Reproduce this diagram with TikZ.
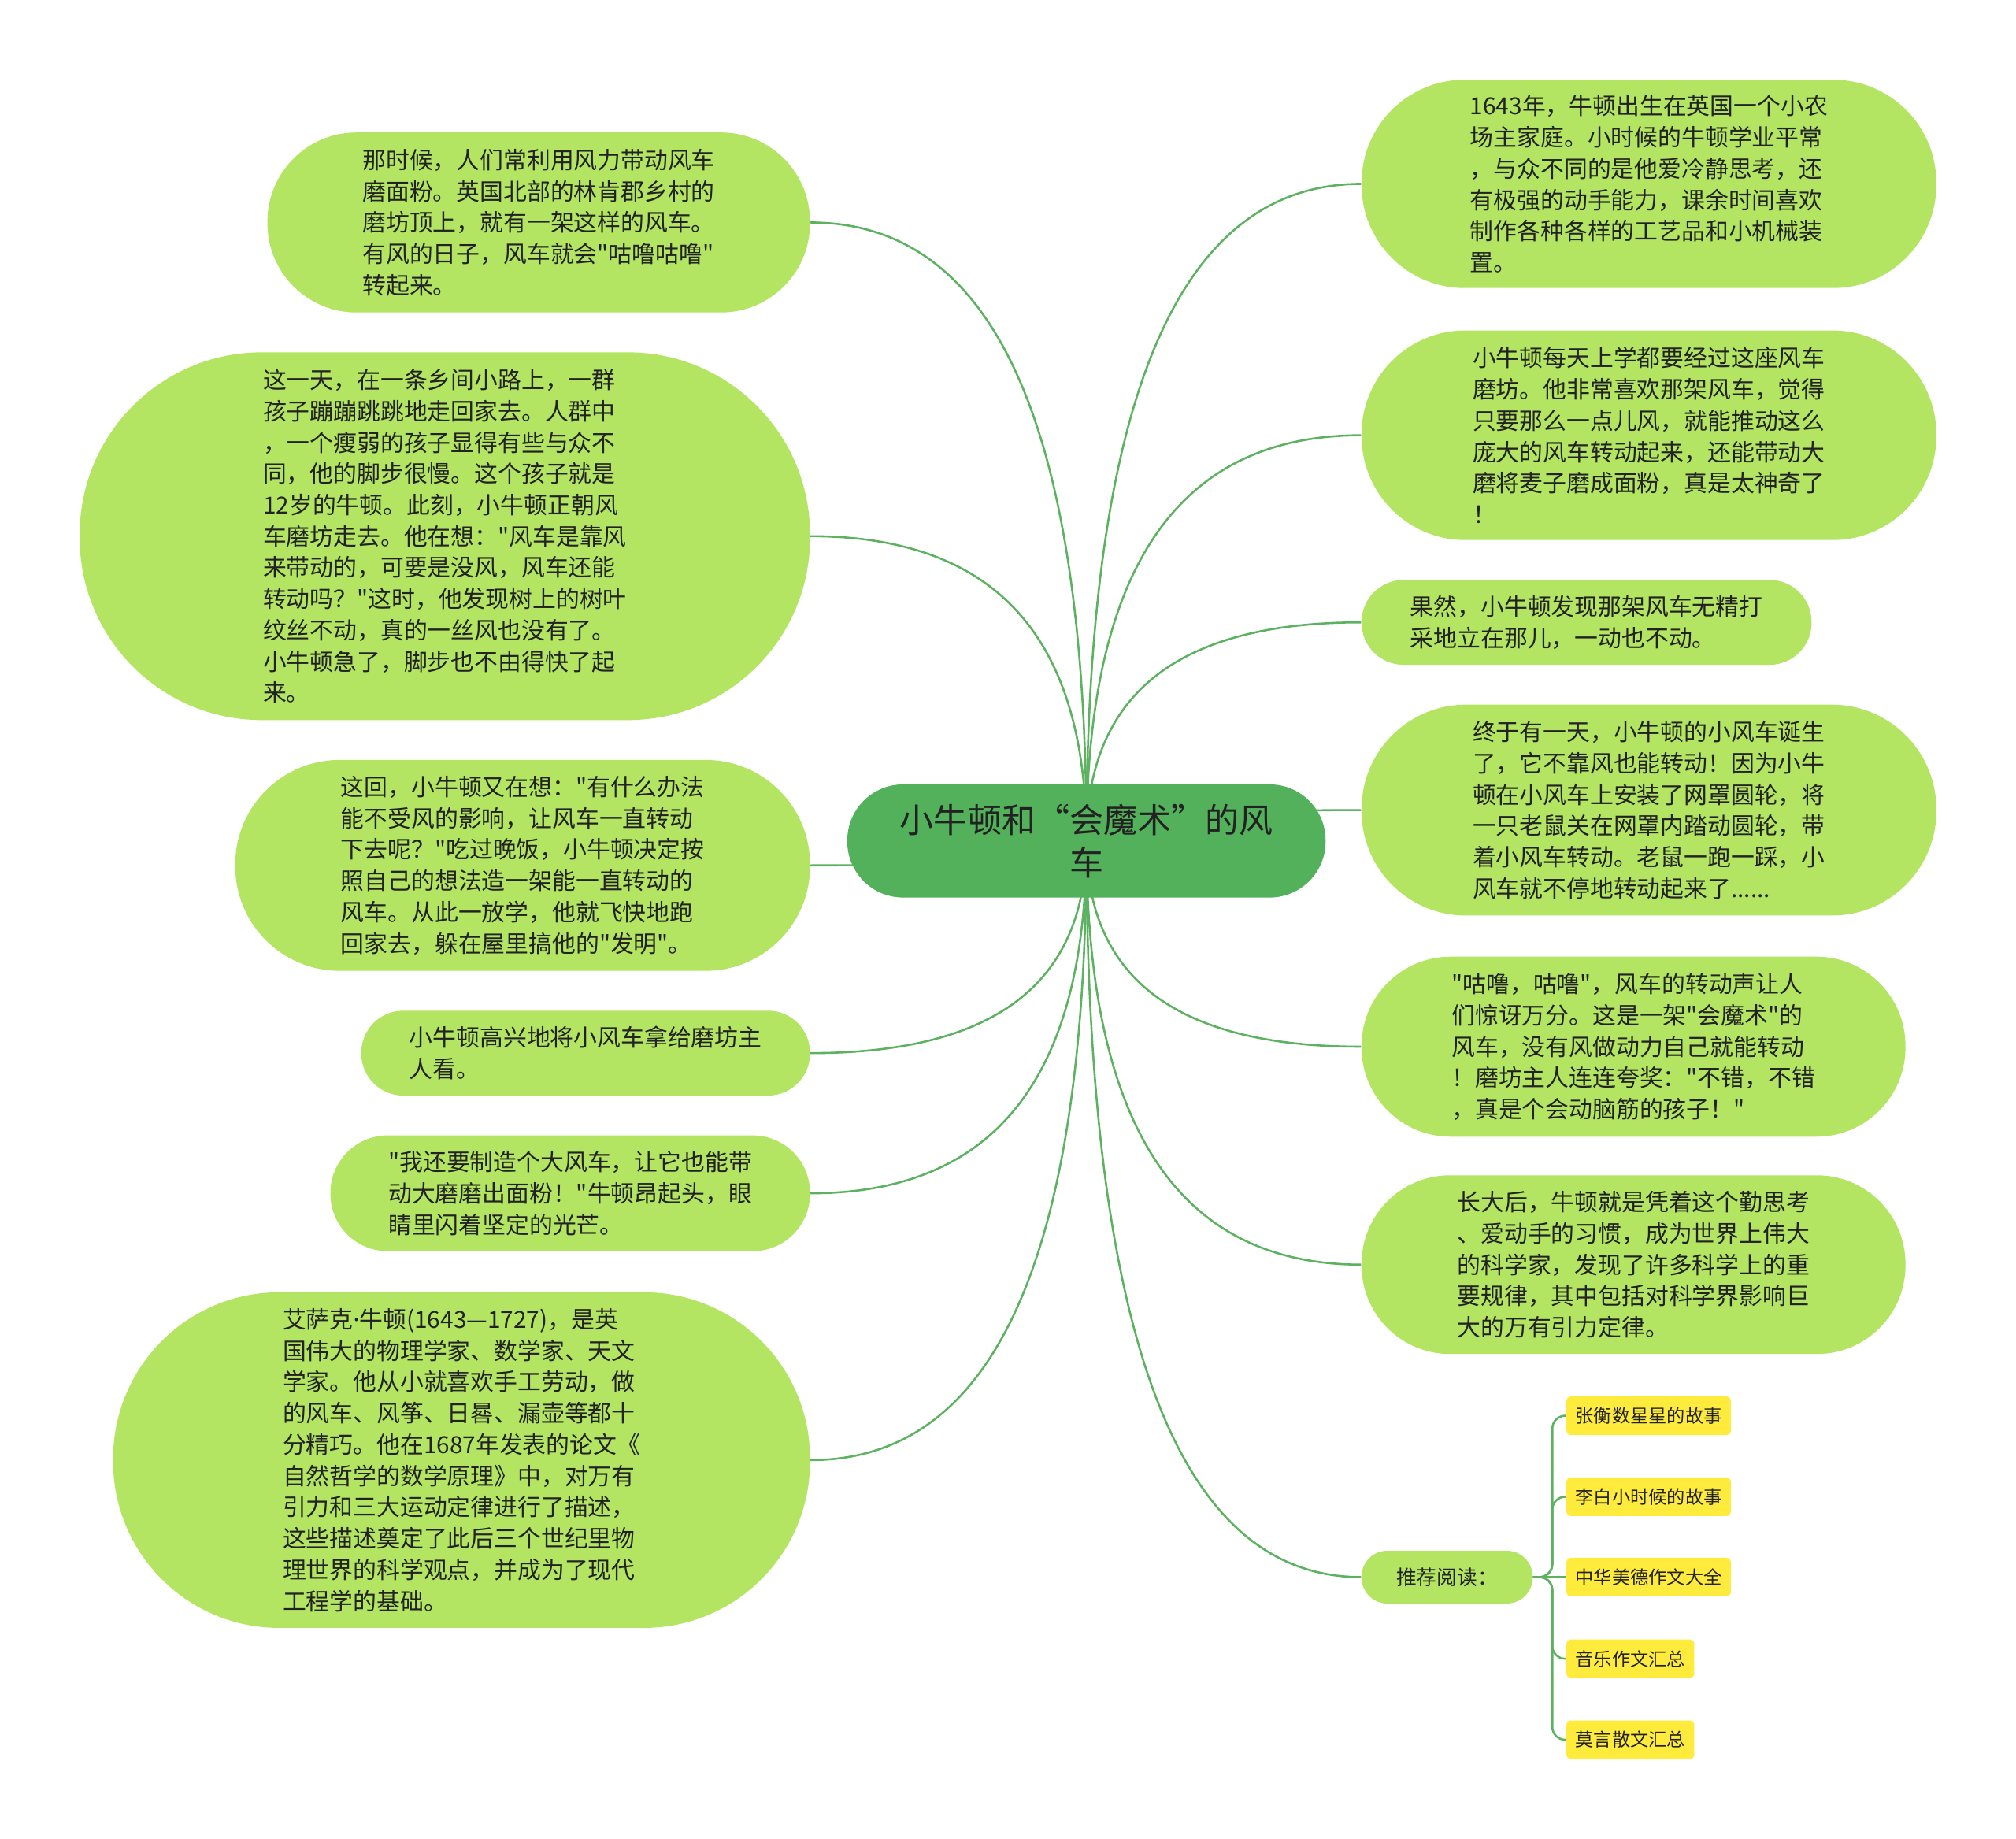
\documentclass[tikz,border=0pt]{standalone}
\usepackage{fontspec}
\newfontfamily\cjk{Noto Sans CJK SC}
\newfontfamily\latin{Noto Sans}
\usetikzlibrary{calc,backgrounds}

\definecolor{rootgreen}{RGB}{83,176,91}
\definecolor{leafgreen}{RGB}{179,229,99}
\definecolor{linegreen}{RGB}{92,178,96}
\definecolor{readyellow}{RGB}{255,235,59}
\definecolor{textdark}{RGB}{34,34,34}

\tikzset{
  rootbox/.style={fill=rootgreen, text=textdark, font=\cjk\fontsize{15}{18.7}\selectfont,
    align=center, inner sep=0pt, minimum width=372*0.02cm, minimum height=88*0.02cm,
    rounded corners=0.87cm},
  leaf/.style 2 args={fill=leafgreen, text=textdark, font=\cjk\fontsize{10.4}{13.85}\selectfont,
    align=left, inner sep=0pt, minimum width=#1*0.02cm, minimum height=#2*0.02cm,
    rounded corners=#2*0.0099cm},
  recbox/.style={fill=leafgreen, text=textdark, font=\cjk\fontsize{9}{11}\selectfont,
    inner sep=0pt, minimum width=133*0.02cm, minimum height=41*0.02cm, rounded corners=0.4cm},
  readbox/.style={fill=readyellow, text=textdark, font=\cjk\fontsize{8.1}{10}\selectfont,
    anchor=west, inner xsep=0.14cm, inner ysep=0pt, minimum height=0.6cm, rounded corners=2pt},
  branch/.style={draw=linegreen, line width=0.9pt},
}

\begin{document}
\begin{tikzpicture}[x=0.02cm, y=-0.02cm]
  \useasboundingbox (0,0) rectangle (1568,1430);

  % centre topic
  \node[rootbox] (root) at (845,654) {小牛顿和“会魔术”的风\\车};

  % left branch
  \node[leaf={422}{140}] (l1) at (419,173) {那时候，人们常利用风力带动风车\\磨面粉。英国北部的林肯郡乡村的\\磨坊顶上，就有一架这样的风车。\\有风的日子，风车就会"咕噜咕噜"\\转起来。};
  \node[leaf={568}{286}] (l2) at (346,417) {这一天，在一条乡间小路上，一群\\孩子蹦蹦跳跳地走回家去。人群中\\，一个瘦弱的孩子显得有些与众不\\同，他的脚步很慢。这个孩子就是\\12岁的牛顿。此刻，小牛顿正朝风\\车磨坊走去。他在想："风车是靠风\\来带动的，可要是没风，风车还能\\转动吗？"这时，他发现树上的树叶\\纹丝不动，真的一丝风也没有了。\\小牛顿急了，脚步也不由得快了起\\来。};
  \node[leaf={447}{164}] (l3) at (406.5,673) {这回，小牛顿又在想："有什么办法\\能不受风的影响，让风车一直转动\\下去呢？"吃过晚饭，小牛顿决定按\\照自己的想法造一架能一直转动的\\风车。从此一放学，他就飞快地跑\\回家去，躲在屋里搞他的"发明"。};
  \node[leaf={349}{66}] (l4) at (455.5,819) {小牛顿高兴地将小风车拿给磨坊主\\人看。};
  \node[leaf={373}{90}] (l5) at (443.5,928) {"我还要制造个大风车，让它也能带\\动大磨磨出面粉！"牛顿昂起头，眼\\睛里闪着坚定的光芒。};
  \node[leaf={542}{261}] (l6) at (359,1135.5) {艾萨克{\latin ·}牛顿(1643—1727)，是英\\国伟大的物理学家、数学家、天文\\学家。他从小就喜欢手工劳动，做\\的风车、风筝、日晷、漏壶等都十\\分精巧。他在1687年发表的论文《\\自然哲学的数学原理》中，对万有\\引力和三大运动定律进行了描述，\\这些描述奠定了此后三个世纪里物\\理世界的科学观点，并成为了现代\\工程学的基础。};

  % right branch
  \node[leaf={447}{162}] (r1) at (1282.5,143) {1643年，牛顿出生在英国一个小农\\场主家庭。小时候的牛顿学业平常\\，与众不同的是他爱冷静思考，还\\有极强的动手能力，课余时间喜欢\\制作各种各样的工艺品和小机械装\\置。};
  \node[leaf={447}{163}] (r2) at (1282.5,338.5) {小牛顿每天上学都要经过这座风车\\磨坊。他非常喜欢那架风车，觉得\\只要那么一点儿风，就能推动这么\\庞大的风车转动起来，还能带动大\\磨将麦子磨成面粉，真是太神奇了\\！};
  \node[leaf={350}{66}] (r3) at (1234,484) {果然，小牛顿发现那架风车无精打\\采地立在那儿，一动也不动。};
  \node[leaf={447}{164}] (r4) at (1282.5,630) {终于有一天，小牛顿的小风车诞生\\了，它不靠风也能转动！因为小牛\\顿在小风车上安装了网罩圆轮，将\\一只老鼠关在网罩内踏动圆轮，带\\着小风车转动。老鼠一跑一踩，小\\风车就不停地转动起来了......};
  \node[leaf={423}{140}] (r5) at (1270.5,814) {"咕噜，咕噜"，风车的转动声让人\\们惊讶万分。这是一架"会魔术"的\\风车，没有风做动力自己就能转动\\！磨坊主人连连夸奖："不错，不错\\，真是个会动脑筋的孩子！"};
  \node[leaf={423}{139}] (r6) at (1270.5,983.5) {长大后，牛顿就是凭着这个勤思考\\、爱动手的习惯，成为世界上伟大\\的科学家，发现了许多科学上的重\\要规律，其中包括对科学界影响巨\\大的万有引力定律。};

  % reading list
  \node[recbox] (rec) at (1125.5,1226.5) {推荐阅读：};
  \node[readbox] (y1) at (1218,1101) {张衡数星星的故事};
  \node[readbox] (y2) at (1218,1164) {李白小时候的故事};
  \node[readbox] (y3) at (1218,1226.5) {中华美德作文大全};
  \node[readbox] (y4) at (1218,1290) {音乐作文汇总};
  \node[readbox] (y5) at (1218,1353) {莫言散文汇总};

  % connectors
  \begin{pgfonlayer}{background}
    \fill[white] (0,0) rectangle (1568,1430);
    \foreach \n in {l1,l2,l3,l4,l5,l6}
      \draw[branch] (root.center) .. controls ($(root.center)!0.67!(root.center |- \n.east)$)
        and ($(\n.east)!0.67!(root.center |- \n.east)$) .. (\n.east);
    \foreach \n in {r1,r2,r3,r4,r5,r6,rec}
      \draw[branch] (root.center) .. controls ($(root.center)!0.67!(root.center |- \n.west)$)
        and ($(\n.west)!0.67!(root.center |- \n.west)$) .. (\n.west);
    \foreach \n in {y1,y2,y4,y5}
      \draw[branch, rounded corners=0.2cm] (rec.east) -- ++(15,0) |- (\n.west);
    \draw[branch] (rec.east) -- (y3.west);
  \end{pgfonlayer}
\end{tikzpicture}
\end{document}
